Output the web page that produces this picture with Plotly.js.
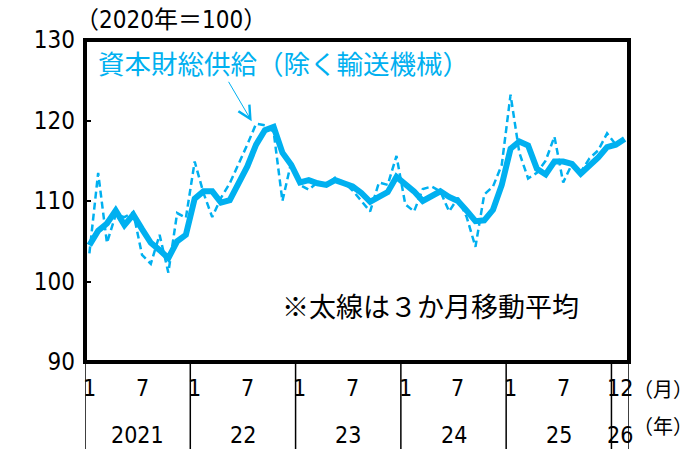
<!DOCTYPE html>
<html>
<head>
<meta charset="utf-8">
<script src="https://cdn.plot.ly/plotly-3.0.1.min.js"></script>
<style>html,body{margin:0;padding:0;background:#fff;}#chart{width:695px;height:449px;}</style>
</head>
<body>
<div id="chart"></div>
<script>
// Months from Jan 2021 (index 0) onward
const monthIndex = [];
for (let i = 0; i < 62; i++) monthIndex.push(i);

// 資本財総供給（除く輸送機械）, monthly (2020=100)
const monthly = [
  103.5, 113.5, 104.8, 108.3, 108.0, 108.6, 103.3, 102.2, 105.8, 101.1, 108.5, 107.9,
  114.9, 111.0, 108.0, 110.4, 112.2, 114.5, 117.0, 119.6, 119.4, 118.6, 110.0, 114.8,
  112.0, 111.4, 112.3, 112.0, 112.9, 112.3, 111.3, 110.0, 108.7, 112.3, 112.0, 115.6,
  109.6, 108.7, 111.5, 111.8, 111.2, 108.7, 110.4, 108.0, 104.3, 110.8, 111.8, 114.5,
  123.2, 116.0, 112.8, 113.5, 115.0, 118.0, 112.3, 114.6, 113.6, 115.3, 116.3, 118.4,
  117.0, 117.8
];

// 3-month moving average (thick line)
const movingAvg = [
  104.5, 106.3, 107.2, 108.8, 107.0, 108.3, 106.5, 104.8, 103.9, 102.9, 105.0, 105.8,
  110.3, 111.2, 111.2, 109.8, 110.1, 112.2, 114.3, 117.0, 118.8, 119.2, 116.0, 114.5,
  112.3, 112.6, 112.2, 112.0, 112.6, 112.2, 111.8, 111.0, 109.9, 110.5, 111.1, 113.0,
  112.2, 111.2, 110.0, 110.6, 111.2, 110.5, 110.0, 108.8, 107.5, 107.6, 108.9, 112.0,
  116.5, 117.4, 116.9, 114.0, 113.3, 114.9, 114.9, 114.6, 113.4, 114.4, 115.4, 116.7,
  117.0, 117.7
];

// x-axis labels
const monthLabels = ["1", "7", "1", "7", "1", "7", "1", "7", "1", "7", "12"];
const monthLabelPos = [0, 6, 12, 18, 24, 30, 36, 42, 48, 54, 60.5];
const yearLabels = ["2021", "22", "23", "24", "25", "26"];
const yearLabelPos = [5.5, 17.5, 29.5, 41.5, 53.5, 60.5];
const yearBoundaries = [-0.5, 11.5, 23.5, 35.5, 47.5, 59.5, 61.5];

const CYAN = "#00B0F0";
const NUMFONT = "'Liberation Sans Narrow', 'DejaVu Sans Condensed', 'Noto Sans CJK JP', sans-serif";
const JPFONT = "'Noto Sans CJK JP', sans-serif";

const traces = [
  {x: monthIndex, y: monthly, type: "scatter", mode: "lines",
   line: {color: CYAN, width: 2.5, dash: "7px,4px"}, hoverinfo: "skip", showlegend: false},
  {x: monthIndex, y: movingAvg, type: "scatter", mode: "lines",
   line: {color: CYAN, width: 6}, hoverinfo: "skip", showlegend: false}
];

const botY = -87 / 322;
const shapes = yearBoundaries.map(v => ({
  type: "line", xref: "x", yref: "paper", x0: v, x1: v, y0: 0, y1: botY,
  line: {color: "#000", width: 1.5}
}));
shapes.push({type: "rect", xref: "paper", yref: "paper", x0: 0, x1: 1, y0: 0, y1: 1,
  line: {color: "#000", width: 4}});

const annotations = [];
monthLabels.forEach((t, k) => annotations.push({
  text: t, x: monthLabelPos[k], y: -0.082, xref: "x", yref: "paper",
  showarrow: false, xanchor: "center", yanchor: "middle",
  font: {family: NUMFONT, size: 23, color: "#000"}
}));
yearLabels.forEach((t, k) => annotations.push({
  text: t, x: yearLabelPos[k], y: -0.226, xref: "x", yref: "paper",
  showarrow: false, xanchor: "center", yanchor: "middle",
  font: {family: NUMFONT, size: 23, color: "#000"}
}));
annotations.push({text: "（月）", x: 1.121, y: -0.082, xref: "paper", yref: "paper",
  showarrow: false, xanchor: "right", yanchor: "middle",
  font: {family: JPFONT, size: 20, color: "#000"}});
annotations.push({text: "（年）", x: 1.121, y: -0.197, xref: "paper", yref: "paper",
  showarrow: false, xanchor: "right", yanchor: "middle",
  font: {family: JPFONT, size: 20, color: "#000"}});
annotations.push({text: "（2020年＝100）", x: -0.022, y: 1.063, xref: "paper", yref: "paper",
  showarrow: false, xanchor: "left", yanchor: "middle",
  font: {family: NUMFONT, size: 24, color: "#000"}});
annotations.push({text: "資本財総供給（除く輸送機械）", x: 0.02, y: 0.93, xref: "paper", yref: "paper",
  showarrow: false, xanchor: "left", yanchor: "middle",
  font: {family: JPFONT, size: 26.5, color: CYAN}});
annotations.push({text: "※太線は３か月移動平均", x: 0.358, y: 0.174, xref: "paper", yref: "paper",
  showarrow: false, xanchor: "left", yanchor: "middle",
  font: {family: JPFONT, size: 27, color: "#000"}});
annotations.push({text: "", x: 18.5, y: 119.9, xref: "x", yref: "y",
  showarrow: true, ax: -24, ay: -41, arrowhead: 5, arrowsize: 2.5, arrowwidth: 1,
  arrowcolor: CYAN});

const layout = {
  width: 695, height: 449,
  margin: {l: 85, r: 66, t: 40, b: 87},
  paper_bgcolor: "#fff", plot_bgcolor: "#fff",
  showlegend: false,
  xaxis: {range: [-0.5, 61.5], showticklabels: false, ticks: "", showgrid: false,
    zeroline: false, showline: false, fixedrange: true},
  yaxis: {range: [90, 130], dtick: 10, tick0: 90, ticks: "inside", ticklen: 6, tickwidth: 2,
    tickcolor: "#000", showgrid: false, zeroline: false, showline: false,
    ticklabelstandoff: 9,
    tickfont: {family: NUMFONT, size: 24, color: "#000"}, fixedrange: true},
  shapes: shapes,
  annotations: annotations
};

Plotly.newPlot("chart", traces, layout, {staticPlot: true, displayModeBar: false});
</script>
</body>
</html>
